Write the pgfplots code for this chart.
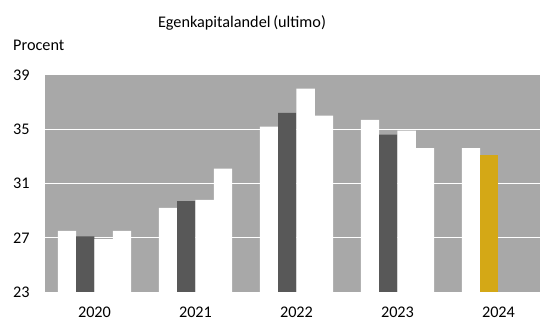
\documentclass[border=0pt]{standalone}
\usepackage{fontspec}
\setmainfont{Carlito}
\usepackage{pgfplots}
\pgfplotsset{compat=1.18}
\definecolor{bg}{RGB}{168,168,168}
\definecolor{dark}{RGB}{88,88,88}
\definecolor{gold}{RGB}{212,168,22}
\begin{document}
\begin{tikzpicture}
\useasboundingbox (0,0) rectangle (540bp,320bp);
\begin{axis}[
 at={(45bp,28bp)}, anchor=south west,
 scale only axis, width=495bp, height=217bp,
 xmin=-0.490, xmax=4.411, ymin=23, ymax=39,
 axis background/.style={fill=bg},
 axis line style={draw=none},
 major tick length=0pt,
 ytick={23,27,31,35,39},
 extra y ticks={27,31,35}, extra y tick labels={},
 extra y tick style={grid=major, major grid style={white, line width=1bp}},
 xtick={0,1,2,3,4}, xticklabels={2020,2021,2022,2023,2024},
 /pgf/number format/assume math mode=true,
 tick label style={font=\fontsize{16.3}{19}\selectfont},
 yticklabel style={anchor=west, inner sep=0pt, xshift=-32bp},
 xticklabel style={anchor=base, inner sep=0pt, yshift=-25bp},
 ybar, bar width=0.181,
]
\addplot[fill=white, draw=none, bar shift=-0.2715] coordinates {(0,27.5)(1,29.2)(2,35.2)(3,35.7)(4,33.6)};
\addplot[fill=dark, draw=none, bar shift=-0.0905] coordinates {(0,27.1)(1,29.7)(2,36.2)(3,34.6)};
\addplot[fill=gold, draw=none, bar shift=-0.0905] coordinates {(4,33.1)};
\addplot[fill=white, draw=none, bar shift=0.0905] coordinates {(0,26.9)(1,29.8)(2,38.0)(3,34.9)};
\addplot[fill=white, draw=none, bar shift=0.2715] coordinates {(0,27.5)(1,32.1)(2,36.0)(3,33.6)};
\end{axis}
\node[anchor=base, font=\fontsize{16.3}{19}\selectfont] at (242bp,292bp) {Egenkapitalandel\,(ultimo)};
\node[anchor=base west, inner sep=0pt, font=\fontsize{16.3}{19}\selectfont] at (13bp,269bp) {Procent};
\end{tikzpicture}
\end{document}
